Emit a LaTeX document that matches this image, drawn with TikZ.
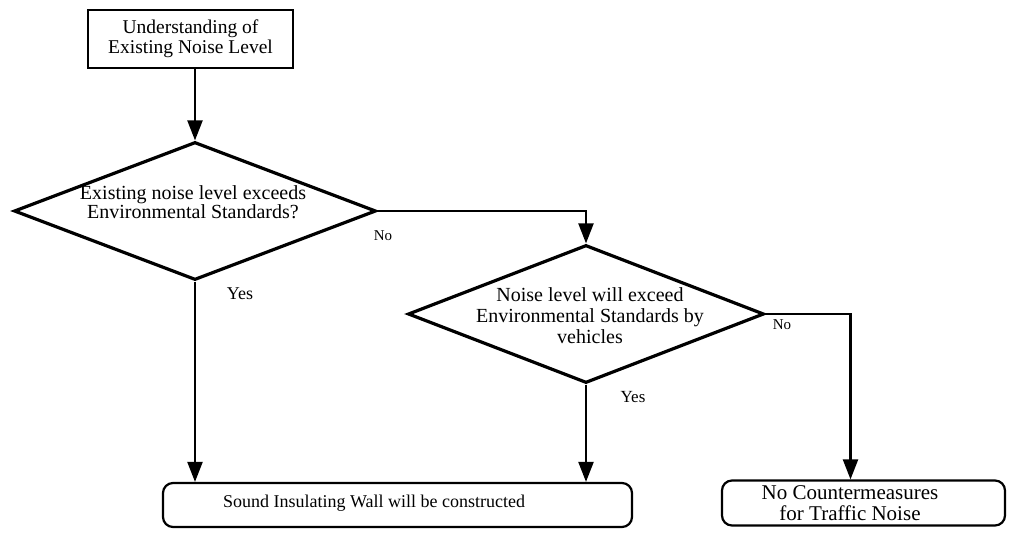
\documentclass[tikz,border=0pt]{standalone}
\usepackage{fontspec}
\setmainfont{Liberation Serif}
\usetikzlibrary{shapes.geometric,arrows.meta,calc}
\begin{document}
\begin{tikzpicture}[x=1pt,y=-1pt,
  line width=2.2pt,
  txt/.style={align=center,font=\fontsize{20}{19}\selectfont,inner sep=0pt},
  lab/.style={font=\fontsize{15}{16}\selectfont,inner sep=0pt},
  sqbox/.style={draw,minimum width=205pt,minimum height=58pt,inner sep=0pt},
  rbox/.style={draw,rounded corners=10pt,inner sep=0pt},
  dia/.style={draw,diamond,inner sep=0pt,line width=3.2pt},
  arr/.style={-{Triangle[length=20pt,width=15pt]}}]
\useasboundingbox (0,0) rectangle (1013,533);
\node[sqbox] (top) at (190.5,39) {};
\node[txt,font=\fontsize{19.5}{20}\selectfont] (toptxt) at (top) {Understanding of\\Existing Noise Level};
\node[dia,minimum width=362pt,minimum height=138pt] (d1) at (195,211) {};
\node[txt] (d1txt) at (193,202) {Existing noise level exceeds\\Environmental Standards?};
\node[dia,minimum width=356pt,minimum height=138pt] (d2) at (586,314) {};
\node[txt,font=\fontsize{20}{21}\selectfont] (d2txt) at (590,316) {Noise level will exceed\\Environmental Standards by\\vehicles};
\node[rbox,minimum width=469pt,minimum height=44pt] (b1) at (397.5,505) {};
\node[txt,font=\fontsize{18}{20}\selectfont] (b1txt) at (374,503) {Sound Insulating Wall will be constructed};
\node[rbox,minimum width=283pt,minimum height=45pt] (b2) at (863.5,503) {};
\node[txt,font=\fontsize{21}{21}\selectfont] (b2txt) at (850,503) {No Countermeasures\\for Traffic Noise};
\coordinate (b2in) at ([xshift=-13pt]b2.north);
\draw[arr] (top.south -| d1.north) -- (d1.north);
\draw[arr] (d1.east) -| (d2.north);
\draw[arr] (d1.south) -- (d1.south |- b1.north);
\draw[arr] (d2.south) -- (d2.south |- b1.north);
\draw[arr] (d2.east) -| (b2in);
\node[lab] (no1) at (383,236) {No};
\node[lab,font=\fontsize{18}{18}\selectfont] (yes1) at (240,294) {Yes};
\node[lab] (no2) at (782,325) {No};
\node[lab,font=\fontsize{17}{18}\selectfont] (yes2) at (633,397) {Yes};
\end{tikzpicture}
\end{document}
